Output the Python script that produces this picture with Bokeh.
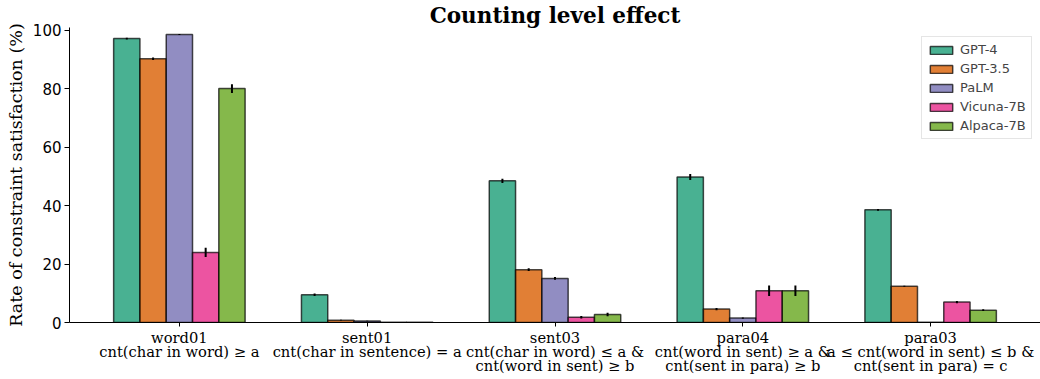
import numpy as np
from bokeh.plotting import figure
from bokeh.models import ColumnDataSource, Range1d, FixedTicker, Legend, LegendItem
from bokeh.embed import file_html
from bokeh.resources import INLINE

categories = ["word01", "sent01", "sent03", "para04", "para03"]
tick_labels = [
    "word01\ncnt(char in word) \u2265 a",
    "sent01\ncnt(char in sentence) = a",
    "sent03\ncnt(char in word) \u2264 a &\ncnt(word in sent) \u2265 b",
    "para04\ncnt(word in sent) \u2265 a &\ncnt(sent in para) \u2265 b",
    "para03\na \u2264 cnt(word in sent) \u2264 b &\ncnt(sent in para) = c",
]
models = ["GPT-4", "GPT-3.5", "PaLM", "Vicuna-7B", "Alpaca-7B"]
colors = ["#1b9e77", "#d95f02", "#7570b3", "#e7298a", "#66a61e"]

gpt4 = [97.2, 9.5, 48.5, 49.8, 38.6]
gpt35 = [90.3, 0.8, 18.1, 4.6, 12.4]
palm = [98.6, 0.5, 15.1, 1.5, 0.1]
vicuna = [24.0, 0.1, 1.8, 10.9, 7.0]
alpaca = [80.1, 0.1, 2.7, 10.9, 4.2]
values = [gpt4, gpt35, palm, vicuna, alpaca]

gpt4_err = [0.3, 0.4, 0.7, 1.0, 0.3]
gpt35_err = [0.4, 0.1, 0.5, 0.4, 0.2]
palm_err = [0.2, 0.1, 0.5, 0.2, 0.0]
vicuna_err = [1.6, 0.0, 0.4, 1.8, 0.4]
alpaca_err = [1.5, 0.0, 0.6, 1.8, 0.3]
errors = [gpt4_err, gpt35_err, palm_err, vicuna_err, alpaca_err]

bar_w = 0.14
n = len(models)

p = figure(width=1040, height=379, output_backend="svg", toolbar_location=None,
           x_range=Range1d(-0.585, 4.585), y_range=Range1d(0, 101),
           min_border_left=69, min_border_right=0, min_border_bottom=57, min_border_top=0)

p.title.text = "Counting level effect"
p.title.text_font = "DejaVu Serif"
p.title.text_font_style = "bold"
p.title.text_font_size = "21.5px"
p.title.align = "center"
p.title.text_color = "black"
p.title.standoff = 0
p.title.offset = 0

items = []
for i, (m, c, vals, errs) in enumerate(zip(models, colors, values, errors)):
    xs = np.arange(len(categories)) + (i - (n - 1) / 2) * bar_w
    src = ColumnDataSource(dict(x=xs, top=vals,
                                lo=np.array(vals) - np.array(errs),
                                hi=np.array(vals) + np.array(errs)))
    r = p.vbar(x="x", top="top", width=bar_w, bottom=0, source=src,
               fill_color=c, fill_alpha=0.8, line_color="black", line_alpha=0.7, line_width=1.5)
    p.segment(x0="x", x1="x", y0="lo", y1="hi", source=src, line_color="black", line_width=2)
    items.append(LegendItem(label=m, renderers=[r]))

legend = Legend(items=items, location=(852, 183))
legend.label_text_font = "DejaVu Sans"
legend.label_text_font_size = "13px"
legend.glyph_width = 28
legend.glyph_height = 10
legend.label_height = 14
legend.spacing = 4
legend.padding = 5
legend.margin = 0
legend.border_line_color = "#cccccc"
legend.border_line_width = 1
legend.background_fill_alpha = 0.8
p.add_layout(legend)

p.xgrid.visible = False
p.ygrid.visible = False
p.outline_line_color = None

p.xaxis.ticker = FixedTicker(ticks=list(range(len(categories))))
p.xaxis.major_label_overrides = {i: t for i, t in enumerate(tick_labels)}
p.xaxis.major_label_text_font = "DejaVu Serif"
p.xaxis.major_label_text_font_size = "14.7px"
p.xaxis.major_label_text_line_height = 0.85
p.xaxis.major_label_text_color = "black"
p.xaxis.minor_tick_line_color = None
p.xaxis.major_tick_in = 0
p.xaxis.major_tick_out = 4
p.xaxis.major_label_standoff = 2
p.xaxis.axis_line_color = "black"

p.yaxis.ticker = FixedTicker(ticks=[0, 20, 40, 60, 80, 100])
p.yaxis.major_label_text_font = "DejaVu Sans"
p.yaxis.major_label_text_font_size = "15px"
p.yaxis.major_label_text_color = "black"
p.yaxis.minor_tick_line_color = None
p.yaxis.major_tick_in = 0
p.yaxis.major_tick_out = 5
p.yaxis.major_label_standoff = 3
p.yaxis.axis_label = "Rate of constraint satisfaction (%)"
p.yaxis.axis_label_text_font = "DejaVu Serif"
p.yaxis.axis_label_text_font_size = "17.5px"
p.yaxis.axis_label_text_font_style = "normal"
p.yaxis.axis_label_text_color = "black"
p.yaxis.axis_label_standoff = 4

open("out.html", "w").write(file_html(p, INLINE))
